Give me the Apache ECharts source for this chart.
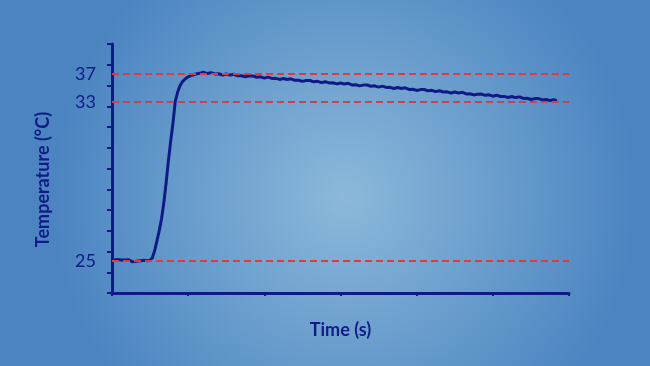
<!DOCTYPE html>
<html>
<head>
<meta charset="utf-8">
<script src="https://cdn.jsdelivr.net/npm/echarts@6/dist/echarts.min.js"></script>
<style>
html,body{margin:0;padding:0;}
#chart{width:650px;height:366px;}
</style>
</head>
<body>
<div id="chart"></div>
<script>
// ---- data ----
const timeSec = [
  0.2,0.45,0.7,0.95,1.2,1.45,1.7,1.95,2.2,2.45,2.7,2.95,3.2,3.45,3.7,3.95,4.2,4.45,4.7,5.0,
  5.3,5.6,5.9,6.2,6.5,6.8,7.1,7.4,7.7,8.0,8.3,8.6,8.9,9.2,9.6,10.0,10.5,11.0,11.5,
  12.0,12.5,13.0,13.5,14.0,14.5,15.0,15.5,16.0,16.5,17.0,17.5,18.0,18.5,19.0,19.5,
  20.0,20.5,21.0,21.5,22.0,22.5,23.0,23.5,24.0,24.5,25.0,25.5,26.0,26.5,27.0,27.5,
  28.0,28.5,29.0,29.5,30.0,30.5,31.0,31.5,32.0,32.5,33.0,33.5,34.0,34.5,35.0,35.5,
  36.0,36.5,37.0,37.5,38.0,38.5,39.0,39.5,40.0,40.5,41.0,41.5,42.0,42.5,43.0,43.5,
  44.0,44.5,45.0,45.5,46.0,46.5,47.0,47.5,48.0,48.5,49.0,49.5,50.0,50.5,51.0,51.5,
  52.0,52.5,53.0,53.5,54.0,54.5,55.0,55.5,56.0,56.5,57.0,57.5,58.0,58.4
];
const tempC = [
  25.02,24.96,25.06,24.98,25.04,24.95,25.03,24.97,25.05,24.96,24.94,24.92,24.97,24.93,25.00,24.96,25.02,24.98,25.00,25.02,
  25.15,25.5,26.0,26.5,27.1,27.9,28.9,30.0,31.0,31.9,33.0,34.3,35.2,35.8,36.25,36.55,36.78,36.95,37.05,
  37.20,37.02,37.15,36.97,36.99,36.82,36.96,36.82,36.92,36.69,36.71,36.55,36.66,36.67,36.49,36.55,
  36.37,36.51,36.33,36.34,36.18,36.32,36.17,36.27,36.05,36.07,35.90,36.02,36.03,35.84,35.91,35.73,
  35.86,35.68,35.70,35.54,35.67,35.53,35.63,35.40,35.42,35.26,35.37,35.38,35.20,35.27,35.08,35.22,
  35.04,35.05,34.89,35.03,34.88,34.98,34.76,34.78,34.61,34.73,34.74,34.55,34.62,34.44,34.57,34.39,
  34.41,34.25,34.38,34.24,34.34,34.11,34.13,33.97,34.08,34.09,33.91,33.98,33.79,33.93,33.75,33.76,
  33.60,33.74,33.59,33.69,33.47,33.49,33.32,33.44,33.45,33.26,33.33,33.15,33.28,33.15
];
const refTemps = [25, 33, 37];
const tickLabels = ['25', '33', '37'];

// The drawn temperature scale is not linear: 25→33 is wide, 33→37 is compressed.
// Map a temperature to the axis' display units (0..12, one unit per tick).
function toAxis(t) {
  if (t <= 33) return 1.557 + (t - 25) * 0.9578;
  return 9.219 + (t - 33) * 0.3375;
}

const navy = '#0f1a86';
const seriesData = timeSec.map((t, i) => [t, toAxis(tempC[i])]);
const labelPos = refTemps.map(toAxis);

const chart = echarts.init(document.getElementById('chart'), null, {renderer: 'canvas'});
chart.setOption({
  animation: false,
  backgroundColor: {
    type: 'radial', x: 0.53, y: 0.54, r: 0.8,
    colorStops: [
      {offset: 0, color: '#8cb9da'},
      {offset: 1, color: '#4b84c1'}
    ]
  },
  grid: {left: 112, right: 81, top: 44, bottom: 73},
  xAxis: {
    type: 'value', min: 0, max: 60, interval: 10,
    name: 'Time (s)', nameLocation: 'middle', nameGap: 28,
    nameTextStyle: {color: navy, fontFamily: 'Lato', fontWeight: 'bold', fontSize: 18},
    axisLine: {show: true, lineStyle: {color: navy, width: 3}},
    axisTick: {show: true, length: 3, lineStyle: {color: navy, width: 2}},
    axisLabel: {show: false},
    splitLine: {show: false}
  },
  yAxis: {
    type: 'value', min: 0, max: 12, interval: 1,
    name: 'Temperature (°C)', nameLocation: 'middle', nameGap: 60, nameRotate: 90,
    nameTextStyle: {color: navy, fontFamily: 'Lato', fontWeight: 'bold', fontSize: 18, padding: [0, 22, 0, 0]},
    axisLine: {show: true, lineStyle: {color: navy, width: 3}},
    axisTick: {show: true, length: 5, lineStyle: {color: navy, width: 2}},
    axisLabel: {
      show: true, customValues: labelPos, margin: 16,
      color: navy, fontFamily: 'Lato', fontSize: 18,
      formatter: function (v) {
        for (let i = 0; i < refTemps.length; i++) {
          if (Math.abs(toAxis(refTemps[i]) - v) < 1e-6) return tickLabels[i];
        }
        return '';
      }
    },
    splitLine: {show: false}
  },
  series: [{
    type: 'line',
    data: seriesData,
    showSymbol: false,
    smooth: false,
    lineStyle: {color: navy, width: 3},
    z: 2,
    markLine: {
      silent: true,
      symbol: 'none',
      label: {show: false},
      lineStyle: {color: '#e03a3e', width: 2, type: [7, 4]},
      data: labelPos.map(v => ({yAxis: v})),
      z: 3
    }
  }]
});
</script>
</body>
</html>
